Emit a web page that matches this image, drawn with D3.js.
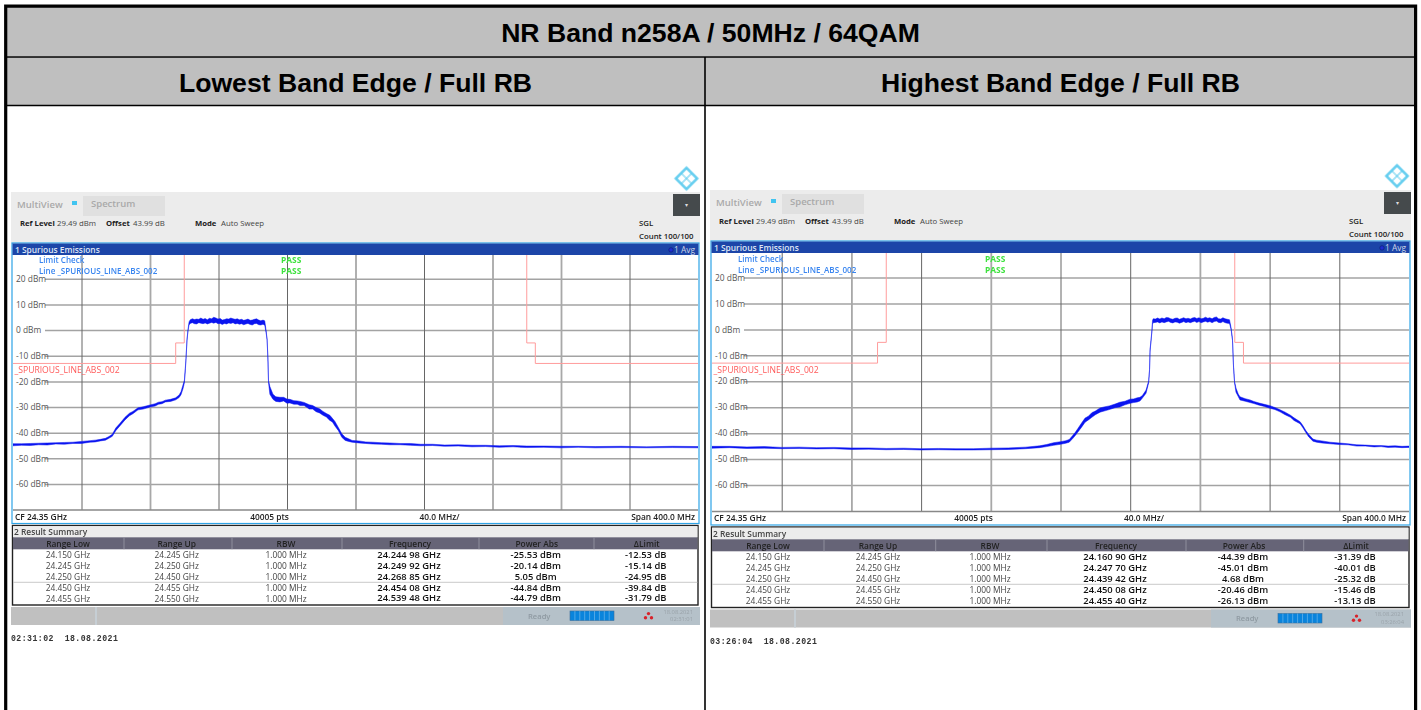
<!DOCTYPE html>
<html>
<head>
<meta charset="utf-8">
<script src="https://cdn.jsdelivr.net/npm/d3@7"></script>
<style>
  html, body { margin: 0; padding: 0; background: #fff; }
  svg { display: block; }
  text { font-family: "Open Sans", sans-serif; }
  .panel { filter: blur(0.35px); }
</style>
</head>
<body>
<div id="chart"></div>
<script>
// traces: frequency in MHz, low and high edge of the noise band in dBm
const leftFreq = [
  24150,24155,24160,24165,24170,24175,24180,24185,24190,24195,24198,24201,24204,
  24206,24208,24210,24212.5,24215.4,24218,24220,24223,24226,24230,24233,24235,24237,24239,24242,24245,24247,24248.1,24249.3,
  24250.1,24250.7,24251,24251.6,24252.2,24252.8,
  24253.5,24254.7,24256,24257.2,24258.5,24259.7,24261,24262.2,24263.5,24264.7,24266,24267.2,24268.5,24269.7,24271,24272.2,24273.5,24274.7,24276,24277.2,24278.5,24279.7,24281,24282.2,24283.5,24284.7,24286,24287.2,24288.5,24289.7,24291,24292.2,24293.5,24294.7,24296,24297,
  24297.8,24298.4,24298.9,24299.2,24300,
  24301.8,24303.5,24305.9,24308,24310,24311.7,24314,24316,24317.6,24320,24323,24325,24327,24329,24331,24333,24335,24336.5,24338,24340,24342,24344,24346,24348,
  24352,24356,24360,24365,24370,24376,24382,24388,24395,24402,24410,24418,24426,24434,24442,24450,24460,24470,24480,24490,24505,24520,24535,24550
];
const leftLow = [
  -45.1,-44.9,-45,-44.7,-44.8,-44.4,-44.5,-44.2,-44.2,-43.7,-43.6,-43.2,-42.9,
  -42.2,-41.4,-39.2,-37.3,-35,-33.4,-32.6,-31.1,-30.8,-30,-29.6,-28.9,-28.7,-28,-27.8,-27.2,-26.3,-25.2,-22.8,
  -20.5,-15,-11.8,-4.2,-0.3,2,
  2.6,2.9,2.5,2.4,2.9,2.7,2.5,2.8,2.4,2.7,3,2.7,3,2.5,2.6,2.2,2.6,2.4,2.8,2.6,2.9,2.4,2.6,2.3,2.5,2.1,2.4,2.6,2.2,2,2.5,2.6,2.1,2,2.3,1.9,
  -1,-4,-12.4,-20.4,-25,
  -27,-27.8,-28,-27.6,-28.5,-28.4,-28.9,-28.9,-29.4,-29.4,-30.8,-30.8,-31.8,-32.3,-33.2,-33.9,-35.2,-35.8,-37.4,-39.2,-41.8,-43,-43.4,-43.7,
  -44,-44.2,-44.4,-44.5,-44.7,-44.7,-44.9,-45.1,-45,-45.3,-45.2,-45.5,-45.4,-45.7,-45.5,-45.8,-45.7,-45.9,-45.7,-45.9,-45.8,-45.9,-45.8,-45.9
];
const leftHigh = [
  -44.3,-44.3,-44.2,-44.1,-44,-43.9,-43.8,-43.7,-43.4,-43.1,-42.9,-42.6,-42.2,
  -41.5,-40.6,-38.2,-36.3,-34,-32.4,-31.7,-30.3,-29.9,-29.2,-28.7,-28.1,-27.9,-27.3,-27,-26.4,-25.3,-24,-21.3,
  -19.5,-14,-11.2,-3.6,0.3,3.2,
  4,4.4,4.1,4.3,4.2,4.7,4.2,4.5,4,4.6,4.4,5,4.7,4.3,4.5,3.9,4.1,4.4,4.3,4.7,4.4,4.2,4.4,4,4.2,3.8,4,4.3,3.8,3.9,4.2,4.4,3.9,3.6,3.9,3.6,
  -0.2,-3.6,-11.6,-19.6,-22,
  -25,-26,-26.2,-26.2,-26.9,-27,-27.5,-27.6,-27.8,-28.2,-29.1,-29.4,-30.2,-30.7,-31.7,-32.5,-33.2,-34.4,-35.6,-38,-40.4,-41.8,-42.4,-43,
  -43.2,-43.6,-43.7,-43.9,-44,-44.2,-44.2,-44.5,-44.5,-44.8,-44.7,-44.9,-44.9,-45.1,-45,-45.2,-45.2,-45.3,-45.3,-45.4,-45.3,-45.5,-45.3,-45.4
];

const rightFreq = [
  24150,24160,24170,24180,24190,24200,24210,24220,24230,24240,24250,24260,24270,24280,24290,24300,24310,24320,24330,24338,
  24342,24346,24350,24353,24355,24357,24358.5,24360,24362,24364.1,24366,24368,24370,24372.7,24375,24378,24381.3,24384,24387,24389.9,24392,24394,24395.6,24397,24399.1,
  24400.6,24401.1,24401.4,24402,24402.5,24402.8,24403.2,
  24404.5,24405.7,24407,24408.2,24409.5,24410.7,24412,24413.2,24414.5,24415.7,24417,24418.2,24419.5,24420.7,24422,24423.2,24424.5,24425.7,24427,24428.2,24429.5,24430.7,24432,24433.2,24434.5,24435.7,24437,24438.2,24439.5,24440.7,24442,24443.2,24444.5,24445.7,24447,
  24447.9,24448.7,24449.3,24449.9,24450.7,24452,
  24453,24456,24458.8,24461,24464,24467,24470.2,24473,24476,24478.9,24482,24484,24487.5,24489,24490.9,24492.5,24494.9,24497,24500,24504.7,
  24510,24515,24520,24525,24530,24534,24538,24542,24546,24550
];
const rightLow = [
  -45.8,-45.6,-45.9,-45.8,-46,-45.9,-46.1,-46,-46.3,-46.2,-46.4,-46.3,-46.5,-46.4,-46.5,-46.5,-46.4,-46.3,-46,-45.6,
  -45.2,-44.7,-44.3,-43.9,-43.5,-42.1,-40.9,-39.6,-37.8,-35.8,-34.9,-33.9,-32.9,-31.9,-31.5,-30.9,-30.2,-29.9,-29.1,-28.5,-28.2,-28,-27.6,-26.5,-24.6,
  -20.6,-16,-8.4,-4.3,-0.6,2,2.6,
  2.7,2.9,2.5,2.9,2.6,2.9,3.1,2.7,2.5,2.9,2.8,2.4,2.7,3,2.6,2.9,2.6,2.9,3.1,2.7,3,2.6,2.9,3.1,2.8,3,2.6,3,3.2,2.7,2.6,3,2.6,2.4,2.3,
  0,-4.3,-14.7,-20.7,-24.2,-25.9,
  -27.2,-27.7,-28.2,-28.6,-29.2,-29.7,-30.4,-30.9,-31.8,-32.9,-33.9,-35.1,-36.4,-37.8,-39.9,-41.5,-43.1,-43.5,-43.8,-44.1,
  -44.4,-44.5,-45,-45,-45.3,-45.2,-45.5,-45.4,-45.6,-45.5
];
const rightHigh = [
  -45.1,-45.1,-45.3,-45.2,-45.5,-45.4,-45.6,-45.5,-45.7,-45.7,-45.9,-45.8,-46,-45.9,-46,-46,-45.8,-45.7,-45.4,-44.9,
  -44.4,-43.7,-43.3,-42.9,-42.5,-40.9,-39.7,-38.2,-36.2,-34.2,-33.5,-32.1,-31.5,-30.3,-29.9,-29.5,-28.8,-28.1,-27.7,-26.9,-26.8,-26.4,-26.2,-25.5,-23.4,
  -19.8,-15.4,-7.6,-3.7,0,3.4,4.1,
  4,4.4,4,4.4,4.1,4.6,4.5,4.1,3.9,4.3,4.4,3.9,4.2,4.5,4.1,4.3,4,4.4,4.6,4.2,4.5,4.1,4.3,4.7,4.3,4.5,4.1,4.6,4.8,4.1,4,4.5,4.1,3.9,3.7,
  0.6,-3.7,-14.1,-20.1,-22.6,-24.9,
  -26,-26.7,-27.2,-27.8,-28.4,-28.9,-29.4,-30.1,-31,-31.9,-33.1,-34.1,-35.6,-37,-39.1,-40.5,-42.3,-42.7,-43,-43.5,
  -43.8,-44.1,-44.5,-44.6,-44.8,-44.8,-45,-44.9,-45.1,-45
];

// limit line from the result table: segments in MHz and their level in dBm
const limitFreq = [24150,24245,24245,24250,24250,24450,24450,24455,24455,24550];
const limitLevel = [-13,-13,-5,-5,30,30,-5,-5,-13,-13];

const levelTicks = [20,10,0,-10,-20,-30,-40,-50,-60];
const freqTicks = [24190,24230,24270,24310,24350,24390,24430,24470,24510];

const columnNames = ["Range Low","Range Up","RBW","Frequency","Power Abs","ΔLimit"];
const rangeLow = ["24.150 GHz","24.245 GHz","24.250 GHz","24.450 GHz","24.455 GHz"];
const rangeUp = ["24.245 GHz","24.250 GHz","24.450 GHz","24.455 GHz","24.550 GHz"];
const rbw = ["1.000 MHz","1.000 MHz","1.000 MHz","1.000 MHz","1.000 MHz"];
const leftPeakFreq = ["24.244 98 GHz","24.249 92 GHz","24.268 85 GHz","24.454 08 GHz","24.539 48 GHz"];
const leftPower = ["-25.53 dBm","-20.14 dBm","5.05 dBm","-44.84 dBm","-44.79 dBm"];
const leftDelta = ["-12.53 dB","-15.14 dB","-24.95 dB","-39.84 dB","-31.79 dB"];
const rightPeakFreq = ["24.160 90 GHz","24.247 70 GHz","24.439 42 GHz","24.450 08 GHz","24.455 40 GHz"];
const rightPower = ["-44.39 dBm","-45.01 dBm","4.68 dBm","-20.46 dBm","-26.13 dBm"];
const rightDelta = ["-31.39 dB","-40.01 dB","-25.32 dB","-15.46 dB","-13.13 dB"];

const width = 1421, height = 710;
const svg = d3.select("#chart").append("svg").attr("width", width).attr("height", height);

// page frame and the table headers
svg.append("rect").attr("x", 6).attr("y", 6.5).attr("width", 1409.5).attr("height", 50).attr("fill", "#bfbfbf");
svg.append("rect").attr("x", 6).attr("y", 57).attr("width", 1409.5).attr("height", 48).attr("fill", "#bfbfbf");
const frame = svg.append("g").attr("stroke", "#000");
frame.append("path").attr("fill", "none").attr("stroke-width", 3.2).attr("d", "M5.7,710V6.2H1415.6V710");
frame.append("line").attr("x1", 6).attr("x2", 1415).attr("y1", 57).attr("y2", 57).attr("stroke-width", 1.6);
frame.append("line").attr("x1", 6).attr("x2", 1415).attr("y1", 105.5).attr("y2", 105.5).attr("stroke-width", 1.4);
frame.append("line").attr("x1", 705).attr("x2", 705).attr("y1", 57).attr("y2", 710).attr("stroke-width", 1.6);

const headStyle = s => s.attr("text-anchor", "middle").attr("font-weight", 700).style("font-family", "'Liberation Sans', Arial, sans-serif").attr("fill", "#000");
svg.append("text").attr("x", 710.5).attr("y", 42).attr("font-size", 26.6).text("NR Band n258A / 50MHz / 64QAM").call(headStyle);
svg.append("text").attr("x", 355.5).attr("y", 92).attr("font-size", 26.6).text("Lowest Band Edge / Full RB").call(headStyle);
svg.append("text").attr("x", 1060.5).attr("y", 92).attr("font-size", 26.6).text("Highest Band Edge / Full RB").call(headStyle);

function drawPanel(p) {
  const g = svg.append("g").attr("class", "panel");
  const x = d3.scaleLinear().domain([24150, 24550]).range([p.plotL, p.plotR]);
  const y = d3.scaleLinear().domain([0, -60]).range([p.zeroY, p.minus60Y]);

  // logo
  const logo = g.append("g").attr("transform", `translate(${p.logoX},${p.logoY}) rotate(45)`)
    .attr("fill", "none").attr("stroke", "#5ccbee");
  logo.append("rect").attr("x", -7.5).attr("y", -7.5).attr("width", 15).attr("height", 15).attr("stroke-width", 2.4);
  logo.append("path").attr("d", "M0,-7V7M-7,0H7").attr("stroke-width", 1.1);

  // instrument header
  g.append("rect").attr("x", p.barL).attr("y", p.barTop).attr("width", p.barR - p.barL).attr("height", p.titleTop - p.barTop).attr("fill", "#ececec");
  g.append("rect").attr("x", p.barL + 72).attr("y", p.barTop + 4).attr("width", 82).attr("height", 20).attr("fill", "#e0e0e0");
  g.append("rect").attr("x", p.barL + 61).attr("y", p.barTop + 9).attr("width", 5).attr("height", 4).attr("fill", "#41c4f0");
  g.append("rect").attr("x", p.barR - 27).attr("y", p.barTop + 2).attr("width", 27).attr("height", 22).attr("fill", "#454a4c");
  g.append("text").attr("x", p.barR - 13.5).attr("y", p.barTop + 14.5).attr("text-anchor", "middle").attr("fill", "#ddd").attr("font-size", 6).text("▾");

  const label = (tx, ty, s, fill, size, weight, anchor) => g.append("text").attr("x", tx).attr("y", ty)
    .attr("fill", fill).attr("font-size", size).attr("font-weight", weight || 400).attr("text-anchor", anchor || "start").text(s);

  label(p.barL + 6, p.barTop + 16, "MultiView", "#a9a9a9", 9.5, 600);
  label(p.barL + 80, p.barTop + 15, "Spectrum", "#a9a9a9", 9.5, 600);
  label(p.barL + 9, p.infoY, "Ref Level", "#222", 7.7, 700);
  label(p.barL + 46, p.infoY, "29.49 dBm", "#444", 7.8);
  label(p.barL + 95, p.infoY, "Offset", "#222", 7.7, 700);
  label(p.barL + 122, p.infoY, "43.99 dB", "#444", 7.8);
  label(p.barL + 184, p.infoY, "Mode", "#222", 7.7, 700);
  label(p.barL + 210, p.infoY, "Auto Sweep", "#444", 7.8);
  label(p.sglX, p.infoY, "SGL", "#222", 7.8, 600);
  label(p.sglX, p.infoY + 13.2, "Count 100/100", "#222", 7.8, 600);

  // plot window
  g.append("rect").attr("x", p.plotL - 1).attr("y", p.titleTop - 0.5).attr("width", p.plotR - p.plotL + 2).attr("height", p.cfBottom - p.titleTop + 0.5)
    .attr("fill", "#fff").attr("stroke", "#2ea3e6").attr("stroke-width", 1.2);
  g.append("rect").attr("x", p.plotL - 0.5).attr("y", p.titleTop).attr("width", p.plotR - p.plotL + 1).attr("height", p.plotTop - p.titleTop).attr("fill", "#1c45a8");
  label(p.plotL + 2, p.titleTop + 9.3, "1 Spurious Emissions", "#dfe6f5", 8.4, 600);
  label(p.plotR - 3, p.titleTop + 9.3, "1 Avg", "#cfd6e6", 8.4, 400, "end");
  g.append("circle").attr("cx", p.plotR - 27).attr("cy", p.titleTop + 6.4).attr("r", 2.2).attr("fill", "#1f2fd0").attr("stroke", "#0b1a70").attr("stroke-width", 0.6);

  const clipId = "clip" + p.name;
  svg.append("clipPath").attr("id", clipId).append("rect").attr("x", p.plotL).attr("y", p.plotTop).attr("width", p.plotR - p.plotL).attr("height", p.plotBottom - p.plotTop);

  // grid comes from the axes, tick lines stretched over the plot
  const yAxis = g.append("g").attr("transform", `translate(${p.plotL},0)`)
    .call(d3.axisLeft(y).tickValues(levelTicks).tickFormat(d => d + " dBm").tickSizeOuter(0));
  yAxis.select(".domain").remove();
  yAxis.selectAll("line").attr("x1", 32).attr("x2", p.plotR - p.plotL).attr("stroke", "#a3a3a3").attr("stroke-width", 1.5);
  yAxis.selectAll("text").attr("x", 3).attr("dy", "0.32em").attr("text-anchor", "start").attr("fill", "#555").attr("font-size", 8.4);

  const xAxis = g.append("g").attr("transform", `translate(0,${p.plotBottom})`)
    .call(d3.axisBottom(x).tickValues(freqTicks).tickFormat("").tickSize(p.plotTop - p.plotBottom).tickSizeOuter(0));
  xAxis.select(".domain").remove();
  xAxis.selectAll("line").attr("stroke", (d, i) => p.gridHeavy.includes(i) ? "#a8a8a8" : "#666").attr("stroke-width", (d, i) => p.gridHeavy.includes(i) ? 1.8 : 1);
  g.append("line").attr("x1", p.plotL).attr("x2", p.plotR).attr("y1", p.plotBottom).attr("y2", p.plotBottom).attr("stroke", "#888").attr("stroke-width", 1.4);

  // limit line
  const limitLine = d3.line().x(d => x(d[0])).y(d => y(d[1]));
  g.append("path").datum(d3.zip(limitFreq, limitLevel)).attr("clip-path", `url(#${clipId})`)
    .attr("fill", "none").attr("stroke", "#ff9c9c").attr("stroke-width", 1).attr("d", limitLine);

  // trace
  const band = d3.area().x((d, i) => x(p.freq[i])).y0((d, i) => y(p.low[i])).y1((d, i) => y(p.high[i]));
  g.append("path").datum(p.freq).attr("clip-path", `url(#${clipId})`)
    .attr("fill", "#0a14f0").attr("stroke", "#0a14f0").attr("stroke-width", 0.5).attr("d", band);

  // overlay labels
  label(p.plotL + 26, p.lineLabelY, "Limit Check", "#3a86f0", 8.05, 600);
  label(p.plotL + 26, p.lineLabelY + 11, "Line _SPURIOUS_LINE_ABS_002", "#3a86f0", 8.05, 600);
  label(p.passX, p.lineLabelY, "PASS", "#3fe23f", 8.4, 700);
  label(p.passX, p.lineLabelY + 11, "PASS", "#3fe23f", 8.4, 700);
  label(p.plotL + 1.5, y(-16.8), "_SPURIOUS_LINE_ABS_002", "#ff5a5a", 8.6);

  // bottom line of the plot
  label(p.plotL + 2, p.cfBottom - 4, "CF 24.35 GHz", "#222", 8.4, 600);
  label(p.ptsX, p.cfBottom - 4, "40005 pts", "#222", 8.4, 600, "middle");
  label(p.divX, p.cfBottom - 4, "40.0 MHz/", "#222", 8.4, 600, "middle");
  label(p.plotR - 3, p.cfBottom - 4, "Span 400.0 MHz", "#222", 8.4, 600, "end");

  // result summary
  g.append("rect").attr("x", p.plotL - 0.5).attr("y", p.tableTop).attr("width", p.plotR - p.plotL + 0.5).attr("height", p.tableBottom - p.tableTop)
    .attr("fill", "#fff").attr("stroke", "#222").attr("stroke-width", 1.4);
  g.append("rect").attr("x", p.plotL).attr("y", p.tableTop + 0.7).attr("width", p.plotR - p.plotL - 0.5).attr("height", p.headTop - p.tableTop - 0.7).attr("fill", "#ececec");
  label(p.plotL + 1, p.tableTop + 9.5, "2 Result Summary", "#444", 8.4, 600);
  g.append("rect").attr("x", p.plotL).attr("y", p.headTop).attr("width", p.plotR - p.plotL - 0.5).attr("height", 12).attr("fill", "#666477");
  p.colLines.forEach(cx => g.append("line").attr("x1", cx).attr("x2", cx).attr("y1", p.headTop).attr("y2", p.headTop + 12).attr("stroke", "#9a99a6").attr("stroke-width", 0.8));
  columnNames.forEach((c, i) => label(p.colX[i], p.headTop + 9.3, c, "#222", 8.4, 600, "middle"));
  g.append("line").attr("x1", p.plotL).attr("x2", p.plotR - 0.5).attr("y1", p.sepY).attr("y2", p.sepY).attr("stroke", "#bbb").attr("stroke-width", 0.8);

  [rangeLow, rangeUp, rbw].forEach((col, i) => col.forEach((s, r) => label(p.colX[i], p.rowY[r] + 3, s, "#444", 8.4, 400, "middle")));
  [p.peak, p.power, p.delta].forEach((col, i) => col.forEach((s, r) => label(p.colX[i + 3] - 1, p.rowY[r] + 2.5, s, "#111", 9.4, 600, "middle")));

  // status bar
  g.append("rect").attr("x", p.barL).attr("y", p.statusTop).attr("width", p.barR - p.barL).attr("height", 18).attr("fill", "#c0c0c0");
  g.append("rect").attr("x", p.statusSplit).attr("y", p.statusTop).attr("width", p.barR - p.statusSplit).attr("height", 18).attr("fill", "#b5c1c9");
  g.append("rect").attr("x", p.barL + 84).attr("y", p.statusTop).attr("width", 2).attr("height", 18).attr("fill", "#c6ced4");
  label(p.statusSplit + 25, p.statusTop + 11.5, "Ready", "#8f9aa2", 7.6, 600);
  g.append("rect").attr("x", p.statusSplit + 67).attr("y", p.statusTop + 4).attr("width", 44).attr("height", 9.5).attr("fill", "#0a84dc").attr("stroke", "#3a6f9c").attr("stroke-width", 0.6);
  d3.range(1, 9).forEach(i => g.append("line").attr("x1", p.statusSplit + 67 + i * 4.9).attr("x2", p.statusSplit + 67 + i * 4.9).attr("y1", p.statusTop + 4).attr("y2", p.statusTop + 13.5).attr("stroke", "#6fb6ea").attr("stroke-width", 0.7));
  [[0, -2.4], [-3, 1.8], [3, 1.8]].forEach(o => g.append("circle").attr("cx", p.statusSplit + 145.5 + o[0]).attr("cy", p.statusTop + 9 + o[1]).attr("r", 1.7).attr("fill", "#d8222a"));
  label(p.barR - 7, p.statusTop + 6.5, p.stampDate, "#9aa3aa", 5.8, 400, "end");
  label(p.barR - 7, p.statusTop + 14, p.stampTime, "#9aa3aa", 5.8, 400, "end");

  g.append("text").attr("x", p.barL).attr("y", p.footY).attr("fill", "#333").attr("font-size", 8.2).attr("font-weight", 700)
    .style("font-family", "'Liberation Mono', monospace").attr("letter-spacing", 0.45).attr("xml:space", "preserve").text(p.foot);
}

drawPanel({
  name: "left", freq: leftFreq, low: leftLow, high: leftHigh, peak: leftPeakFreq, power: leftPower, delta: leftDelta,
  plotL: 13, plotR: 698, plotTop: 255, plotBottom: 510, zeroY: 330.1, minus60Y: 484,
  barL: 11, barR: 700, barTop: 192, titleTop: 243.5, infoY: 226, sglX: 639, logoX: 686.5, logoY: 178.5,
  lineLabelY: 263, passX: 281, cfBottom: 523.5, ptsX: 269.5, divX: 439.5,
  tableTop: 525.5, tableBottom: 605, headTop: 537.3, sepY: 582.3,
  rowY: [555, 566, 577, 588, 598.7],
  colX: [68, 176.7, 286, 410, 536.7, 646.7], colLines: [124, 232, 342, 479, 594],
  statusTop: 607, statusSplit: 503, gridHeavy: [1, 4, 6, 7],
  stampDate: "18.08.2021", stampTime: "02:31:01", footY: 641, foot: "02:31:02  18.08.2021"
});

drawPanel({
  name: "right", freq: rightFreq, low: rightLow, high: rightHigh, peak: rightPeakFreq, power: rightPower, delta: rightDelta,
  plotL: 712, plotR: 1409, plotTop: 253, plotBottom: 511.5, zeroY: 329.4, minus60Y: 485,
  barL: 710, barR: 1411, barTop: 190, titleTop: 241.5, infoY: 224, sglX: 1349, logoX: 1397, logoY: 176,
  lineLabelY: 261.5, passX: 985, cfBottom: 525, ptsX: 973.5, divX: 1144,
  tableTop: 527, tableBottom: 607.5, headTop: 539.3, sepY: 584.3,
  rowY: [557.3, 568, 579, 590, 601],
  colX: [768, 878, 990, 1116, 1244, 1356], colLines: [824, 935.7, 1047, 1186, 1303.7],
  statusTop: 609.5, statusSplit: 1211, gridHeavy: [1, 3, 6],
  stampDate: "18.08.2021", stampTime: "03:26:04", footY: 644, foot: "03:26:04  18.08.2021"
});
</script>
</body>
</html>
